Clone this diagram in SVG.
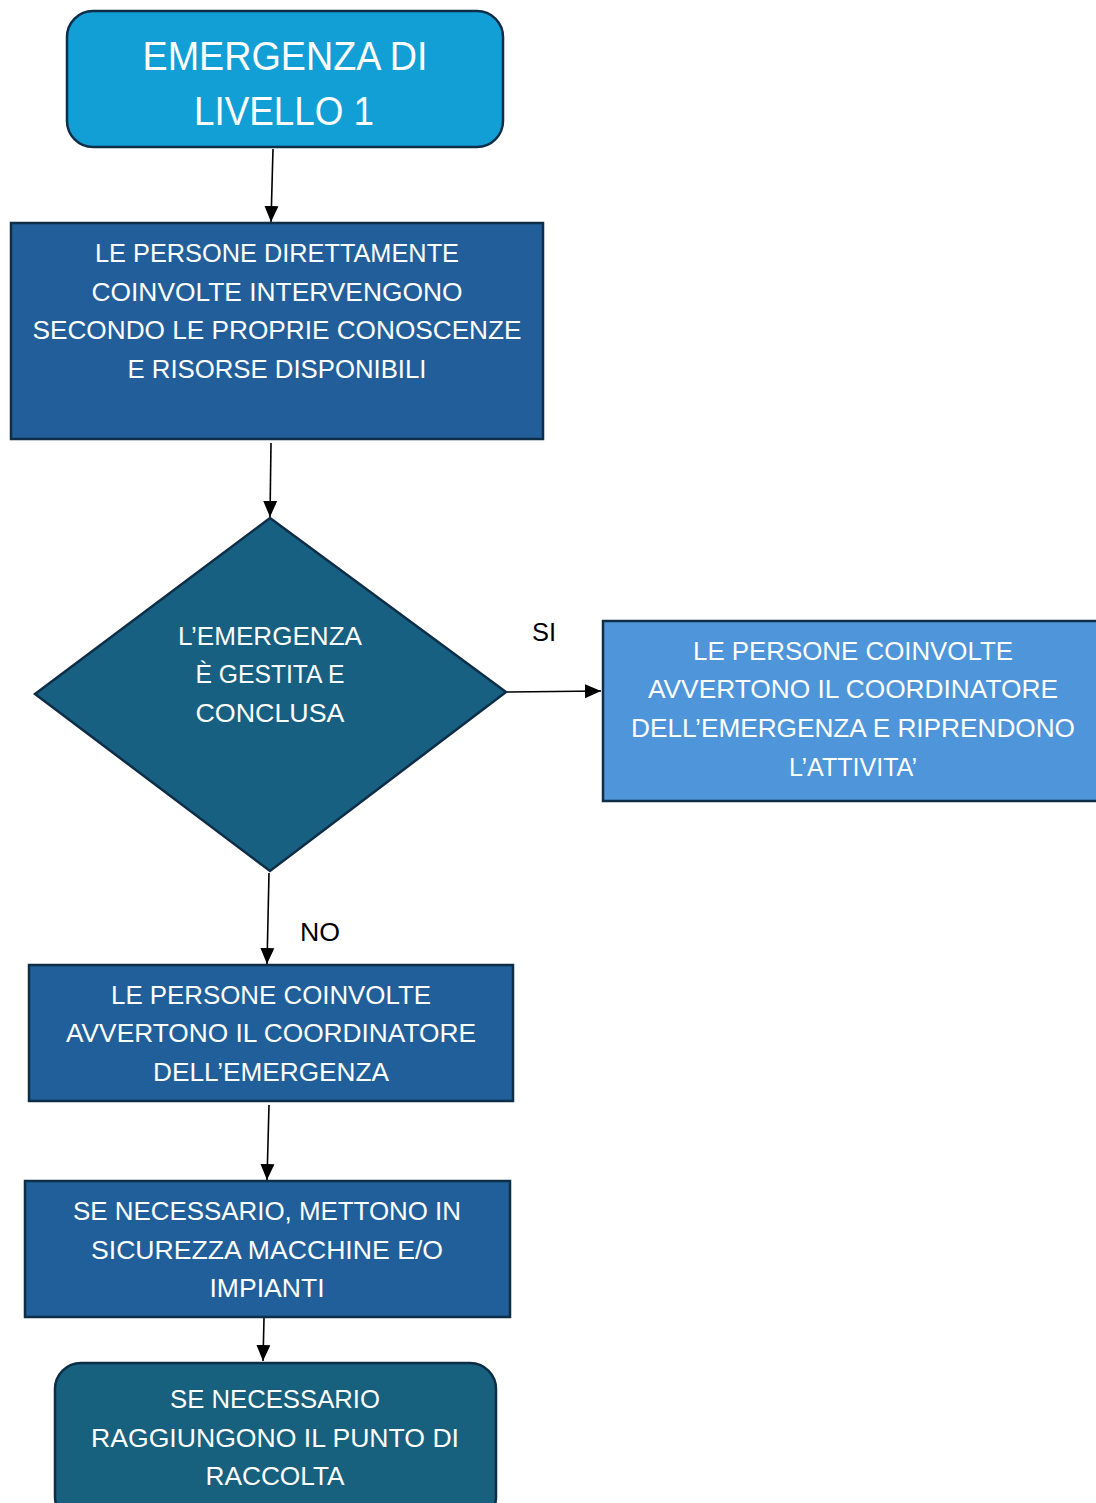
<svg xmlns="http://www.w3.org/2000/svg" width="1096" height="1503" viewBox="0 0 1096 1503">
<defs>
<style>
.t{font-family:"Liberation Sans",Arial,sans-serif;fill:#ffffff;text-anchor:middle;font-size:26px}
.big{font-size:41px}
.lbl{font-family:"Liberation Sans",Arial,sans-serif;fill:#000000;font-size:26px}
.edge{stroke:#000000;stroke-width:1.6;fill:none;marker-end:url(#ah)}
.nd{stroke:#0E2E48;stroke-width:2.5}
</style>
<marker id="ah" markerUnits="userSpaceOnUse" markerWidth="18" markerHeight="18" viewBox="0 0 18 18" refX="16" refY="9" orient="auto">
<path d="M0,2 L16,9 L0,16 Z" fill="#000000"/>
</marker>
</defs>
<rect width="1096" height="1503" fill="#ffffff"/>
<g id="connectors">
<line class="edge" x1="273" y1="149" x2="271" y2="222"/>
<line class="edge" x1="271" y1="443" x2="270" y2="517"/>
<line class="edge" x1="506" y1="692" x2="601" y2="691"/>
<line class="edge" x1="269" y1="873" x2="267" y2="964"/>
<line class="edge" x1="269" y1="1105" x2="267" y2="1180"/>
<line class="edge" x1="264" y1="1318" x2="263" y2="1361"/>
<text class="lbl" x="532" y="641" textLength="24" lengthAdjust="spacingAndGlyphs">SI</text>
<text class="lbl" x="300" y="941" textLength="40" lengthAdjust="spacingAndGlyphs">NO</text>
</g>
<g id="n1">
<rect class="nd" x="67" y="11" width="436" height="136" rx="26" fill="#119FD6"/>
<text class="t big" x="285" y="70" textLength="285" lengthAdjust="spacingAndGlyphs">EMERGENZA DI</text>
<text class="t big" x="284" y="125" textLength="180" lengthAdjust="spacingAndGlyphs">LIVELLO 1</text>
</g>
<g id="n2">
<rect class="nd" x="11" y="223" width="532" height="216" fill="#225F9A"/>
<text class="t" x="277" y="262" textLength="364" lengthAdjust="spacingAndGlyphs">LE PERSONE DIRETTAMENTE</text>
<text class="t" x="277" y="301" textLength="371" lengthAdjust="spacingAndGlyphs">COINVOLTE INTERVENGONO</text>
<text class="t" x="277" y="339" textLength="489" lengthAdjust="spacingAndGlyphs">SECONDO LE PROPRIE CONOSCENZE</text>
<text class="t" x="277" y="378" textLength="299" lengthAdjust="spacingAndGlyphs">E RISORSE DISPONIBILI</text>
</g>
<g id="n3">
<polygon class="nd" points="270,518 506,692 270,871 35,694" fill="#176082" stroke-width="2"/>
<text class="t" x="270" y="645" textLength="184" lengthAdjust="spacingAndGlyphs">L’EMERGENZA</text>
<text class="t" x="270" y="683" textLength="149" lengthAdjust="spacingAndGlyphs">È GESTITA E</text>
<text class="t" x="270" y="722" textLength="149" lengthAdjust="spacingAndGlyphs">CONCLUSA</text>
</g>
<g id="n4">
<rect class="nd" x="603" y="621" width="500" height="180" fill="#4E95D9" stroke="#124F70"/>
<text class="t" x="853" y="660" textLength="320" lengthAdjust="spacingAndGlyphs">LE PERSONE COINVOLTE</text>
<text class="t" x="853" y="698" textLength="410" lengthAdjust="spacingAndGlyphs">AVVERTONO IL COORDINATORE</text>
<text class="t" x="853" y="737" textLength="444" lengthAdjust="spacingAndGlyphs">DELL’EMERGENZA E RIPRENDONO</text>
<text class="t" x="853" y="776" textLength="128" lengthAdjust="spacingAndGlyphs">L’ATTIVITA’</text>
</g>
<g id="n5">
<rect class="nd" x="29" y="965" width="484" height="136" fill="#215F9A"/>
<text class="t" x="271" y="1004" textLength="320" lengthAdjust="spacingAndGlyphs">LE PERSONE COINVOLTE</text>
<text class="t" x="271" y="1042" textLength="410" lengthAdjust="spacingAndGlyphs">AVVERTONO IL COORDINATORE</text>
<text class="t" x="271" y="1081" textLength="236" lengthAdjust="spacingAndGlyphs">DELL’EMERGENZA</text>
</g>
<g id="n6">
<rect class="nd" x="25" y="1181" width="485" height="136" fill="#215F9A"/>
<text class="t" x="267" y="1220" textLength="388" lengthAdjust="spacingAndGlyphs">SE NECESSARIO, METTONO IN</text>
<text class="t" x="267" y="1259" textLength="352" lengthAdjust="spacingAndGlyphs">SICUREZZA MACCHINE E/O</text>
<text class="t" x="267" y="1297" textLength="115" lengthAdjust="spacingAndGlyphs">IMPIANTI</text>
</g>
<g id="n7">
<rect class="nd" x="55" y="1363" width="441" height="160" rx="26" fill="#17607E"/>
<text class="t" x="275" y="1408" textLength="210" lengthAdjust="spacingAndGlyphs">SE NECESSARIO</text>
<text class="t" x="275" y="1447" textLength="368" lengthAdjust="spacingAndGlyphs">RAGGIUNGONO IL PUNTO DI</text>
<text class="t" x="275" y="1485" textLength="139" lengthAdjust="spacingAndGlyphs">RACCOLTA</text>
</g>
</svg>
